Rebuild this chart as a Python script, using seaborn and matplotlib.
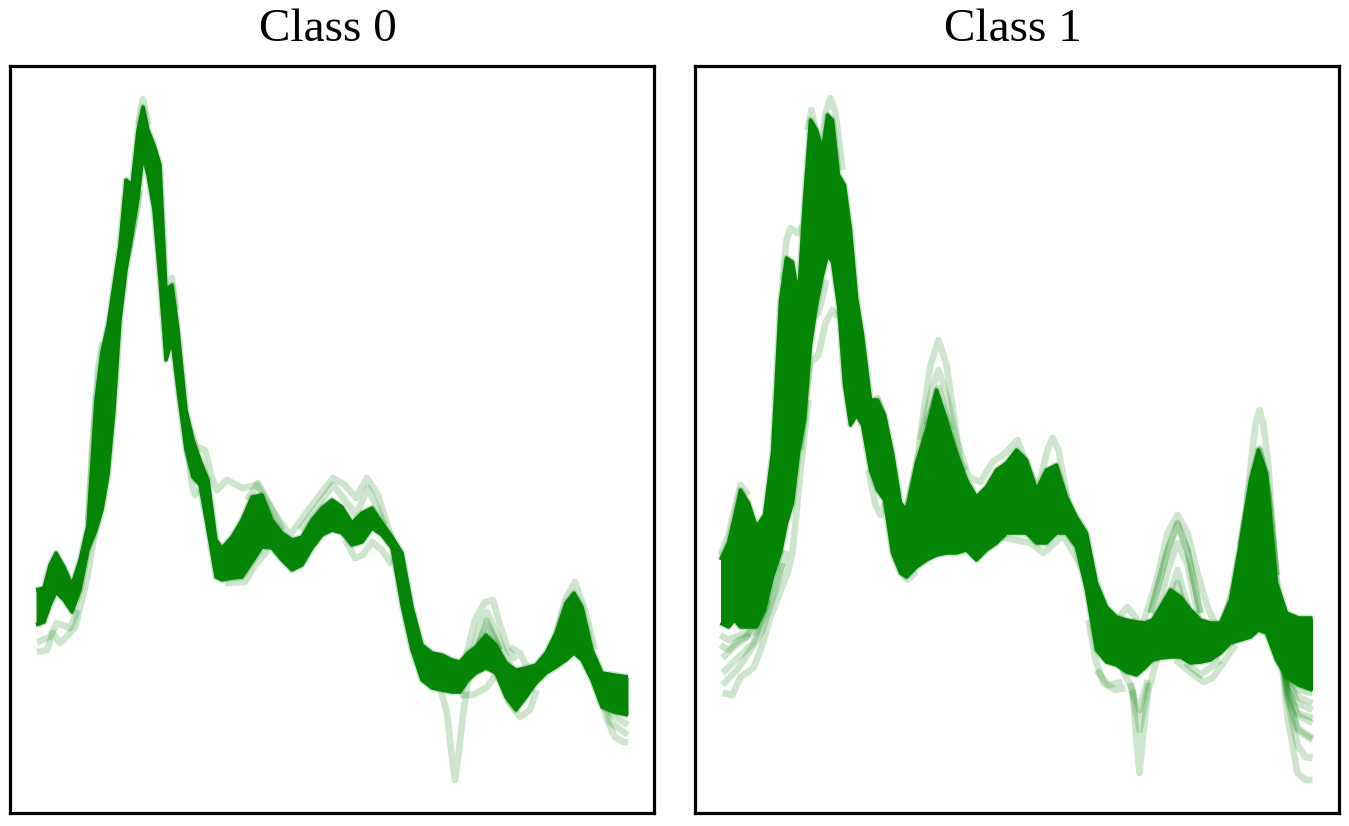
import numpy as np
import pandas as pd
import matplotlib.pyplot as plt
import seaborn as sns

sns.set_theme(style="white")
plt.rcParams['font.family'] = ['Liberation Serif', 'DejaVu Serif']
plt.rcParams['lines.solid_capstyle'] = 'butt'
plt.rcParams['lines.solid_joinstyle'] = 'round'

titles = ['Class 0', 'Class 1']

# shared sampling grid of the dense band
wavelength = [0, 8, 14, 20, 28, 36, 44, 52, 60, 66,
              72, 78, 84, 90, 96, 102, 107, 112, 118, 124,
              130, 136, 142, 150, 157, 164, 172, 180, 186, 196,
              206, 216, 226, 236, 246, 256, 266, 276, 286, 296,
              306, 316, 326, 336, 346, 356, 366, 376, 386, 396,
              406, 416, 424, 432, 440, 450, 460, 470, 480, 490,
              500, 510, 520, 530, 538, 546, 556, 566, 578, 592]

# Class 0, upper and lower edge of the dense band
class0_upper = [223, 225, 248, 260, 246, 228, 253, 288, 413, 461,
                488, 528, 568, 633, 628, 683, 706, 683, 668, 648,
                523, 528, 483, 403, 373, 353, 333, 273, 265, 276,
                293, 316, 318, 293, 280, 273, 276, 293, 305, 313,
                306, 290, 300, 305, 290, 276, 260, 206, 168, 160,
                158, 153, 151, 160, 166, 178, 168, 150, 143, 145,
                148, 160, 180, 210, 220, 206, 163, 140, 138, 136]
class0_lower = [188, 191, 208, 221, 213, 201, 223, 263, 283, 303,
                338, 403, 493, 543, 578, 615, 658, 638, 603, 533,
                453, 473, 423, 363, 336, 328, 283, 236, 233, 235,
                236, 251, 266, 265, 253, 243, 248, 265, 278, 283,
                280, 268, 271, 285, 278, 265, 208, 163, 133, 125,
                123, 121, 121, 133, 140, 145, 140, 116, 103, 116,
                130, 140, 146, 153, 160, 153, 133, 106, 101, 98]

# Class 1, upper and lower edge of the dense band
class1_upper = [253, 270, 296, 323, 310, 286, 298, 360, 513, 555,
                551, 516, 613, 693, 683, 663, 698, 693, 638, 628,
                583, 516, 478, 413, 413, 398, 360, 310, 303, 350,
                383, 423, 393, 360, 333, 316, 326, 343, 350, 363,
                353, 323, 343, 348, 316, 296, 280, 230, 206, 196,
                193, 191, 190, 193, 206, 223, 216, 203, 193, 190,
                190, 213, 270, 333, 363, 340, 230, 200, 195, 195]
class1_lower = [190, 186, 193, 186, 186, 186, 203, 236, 260, 290,
                310, 360, 393, 468, 508, 538, 558, 551, 508, 428,
                388, 398, 388, 343, 323, 313, 260, 240, 236, 246,
                253, 258, 260, 260, 263, 253, 263, 270, 280, 280,
                280, 270, 270, 280, 280, 266, 223, 163, 151, 148,
                141, 138, 145, 153, 155, 156, 156, 150, 151, 153,
                160, 170, 173, 176, 183, 180, 153, 136, 128, 123]

# single spectra that stick out of the band in Class 0 (x list, y list)
class0_curves = [
    ([150, 160, 169, 176, 181, 191, 206, 221, 236, 254, 276, 297, 309, 320, 331, 342, 356],
     [393, 366, 363, 335, 323, 333, 325, 328, 303, 278, 308, 335, 328, 315, 335, 318, 273]),
    ([264, 297, 309, 320, 332, 349], [283, 328, 313, 298, 325, 288]),
    ([402, 411, 415, 419, 423, 427, 431, 437], [133, 100, 63, 33, 63, 98, 126, 158]),
    ([429, 439, 449, 457, 464, 472, 480], [153, 193, 211, 213, 188, 163, 153]),
    ([434, 444, 451, 461, 474], [150, 188, 201, 178, 148]),
    ([436, 451, 464], [150, 188, 163]),
    ([436, 451, 464], [150, 192, 163]),
    ([424, 437, 451, 461, 470], [118, 118, 126, 140, 150]),
    ([556, 564, 571, 579, 587, 592], [153, 123, 93, 76, 71, 71]),
    ([556, 564, 574, 592], [153, 130, 91, 78]),
    ([556, 564, 576, 592], [153, 133, 98, 88]),
    ([309, 319, 327, 336, 346, 356], [273, 255, 258, 271, 263, 248]),
    ([1, 11, 17, 24, 32, 39, 46, 52, 61], [161, 163, 180, 170, 178, 186, 213, 240, 293]),
    ([1, 14, 21, 34, 42], [171, 176, 190, 185, 203]),
    ([471, 484, 494, 501], [113, 96, 103, 123]),
    ([474, 484, 494], [166, 160, 140]),
    ([102, 107, 112], [688, 714, 688]),
    ([132, 136, 140], [503, 535, 503]),
    ([88, 95, 100, 104], [543, 573, 598, 623]),
    ([52, 56, 62, 66, 71, 76], [288, 363, 443, 468, 468, 493]),
    ([519, 529, 539, 549, 559], [173, 213, 231, 203, 163]),
    ([211, 222, 234, 246], [313, 330, 308, 283]),
    ([151, 156, 159, 163], [373, 328, 318, 323]),
    ([189, 209, 219, 232], [230, 231, 248, 263]),
]

# single spectra that stick out of the band in Class 1 (x list, y list)
class1_curves = [
    ([2, 12, 20, 33, 40, 50, 67, 72, 80, 88], [120, 118, 136, 145, 163, 196, 240, 260, 343, 413]),
    ([2, 18, 30, 42, 55, 66], [128, 145, 163, 183, 223, 262]),
    ([2, 13, 33, 50, 62], [140, 151, 170, 213, 250]),
    ([2, 13, 25, 42], [155, 166, 175, 203]),
    ([0, 8, 20, 36, 48], [178, 173, 178, 181, 213]),
    ([0, 8, 18, 30], [168, 163, 173, 178]),
    ([0, 8, 20, 28], [258, 278, 328, 318]),
    ([62, 66, 70, 77, 83], [533, 573, 585, 580, 588]),
    ([80, 85, 90, 98, 105, 112, 117], [363, 413, 450, 458, 490, 503, 496]),
    ([88, 92, 98, 106], [483, 496, 500, 533]),
    ([100, 105, 110, 115, 122], [663, 700, 715, 700, 643]),
    ([87, 91, 95, 100], [683, 703, 683, 643]),
    ([186, 196, 203, 210, 218, 226, 233, 240, 250, 260, 272, 285, 297, 307, 317, 327, 332, 338, 347, 356],
     [303, 348, 400, 448, 473, 448, 400, 350, 335, 331, 351, 360, 373, 346, 323, 363, 375, 363, 313, 288]),
    ([200, 210, 218, 226, 236, 246], [373, 418, 443, 418, 373, 343]),
    ([206, 218, 230], [388, 425, 383]),
    ([280, 310, 323, 343, 353, 365], [276, 270, 260, 278, 260, 238]),
    ([180, 187, 196], [243, 233, 241]),
    ([402, 412, 416, 419, 422, 428, 437], [143, 123, 73, 40, 73, 123, 156]),
    ([410, 419, 428], [130, 83, 130]),
    ([411, 419, 427], [123, 103, 133]),
    ([368, 375, 383, 395, 405], [193, 153, 130, 123, 125]),
    ([376, 388, 402], [143, 128, 131]),
    ([420, 428, 437, 447, 457, 467, 477, 487, 495], [183, 206, 236, 280, 298, 280, 240, 206, 188]),
    ([430, 447, 457, 467, 480], [200, 262, 288, 262, 200]),
    ([430, 447, 457, 467, 480], [200, 262, 290, 262, 200]),
    ([435, 448, 457, 467, 478], [190, 245, 270, 248, 195]),
    ([440, 457, 472], [190, 243, 190]),
    ([445, 457, 468], [190, 230, 190]),
    ([455, 467, 483, 492, 500, 515], [153, 143, 131, 135, 146, 168]),
    ([465, 480, 500], [150, 138, 153]),
    ([505, 513, 523, 530, 535, 539, 543, 548, 555, 560, 565],
     [198, 226, 280, 346, 388, 403, 388, 346, 246, 200, 178]),
    ([520, 530, 539, 548, 556], [268, 323, 365, 318, 238]),
    ([520, 530, 539, 548, 556], [268, 323, 363, 318, 238]),
    ([550, 560, 567, 577, 585, 592], [213, 163, 96, 40, 33, 33]),
    ([555, 567, 577, 585, 592], [205, 113, 68, 56, 55]),
    ([555, 567, 577, 592], [205, 118, 83, 73]),
    ([555, 567, 577, 592], [205, 118, 85, 75]),
    ([555, 567, 577, 592], [205, 123, 98, 90]),
    ([555, 567, 577, 592], [205, 125, 100, 95]),
    ([555, 567, 577, 592], [205, 133, 110, 103]),
    ([555, 566, 577, 592], [205, 135, 116, 110]),
    ([555, 566, 577, 592], [205, 140, 123, 120]),
    ([385, 396, 407, 417], [201, 193, 206, 193]),
    ([150, 157, 164, 169], [393, 415, 393, 363]),
    ([148, 155, 160, 166], [343, 308, 298, 313]),
]


def long_table(curves):
    rows = []
    for i, (x, y) in enumerate(curves):
        rows.append(pd.DataFrame({'curve': i, 'x': x, 'y': y}))
    return pd.concat(rows, ignore_index=True)


fig = plt.figure(figsize=(13.49, 8.26), dpi=100, facecolor='white')
ax0 = fig.add_axes([10 / 1349, 13 / 826, 644 / 1349, 747 / 826])
ax1 = fig.add_axes([694.5 / 1349, 13 / 826, 644 / 1349, 747 / 826])

panels = [(ax0, class0_upper, class0_lower, class0_curves),
          (ax1, class1_upper, class1_lower, class1_curves)]

for n, (ax, upper, lower, curves) in enumerate(panels):
    ax.fill_between(wavelength, lower, upper, color='#058505', lw=0, zorder=3)
    edges = [(wavelength, upper), (wavelength, lower)]
    table = long_table(edges + curves)
    # loose spectra, very transparent
    sns.lineplot(data=table, x='x', y='y', units='curve', estimator=None, sort=False,
                 color='green', alpha=0.2, linewidth=4.8, legend=False, ax=ax, zorder=2)
    # solid stroke on the band edges so thin parts keep the width of the line
    sns.lineplot(data=long_table(edges), x='x', y='y', units='curve', estimator=None, sort=False,
                 color='#058505', linewidth=2.6, legend=False, ax=ax, zorder=3)
    ax.set_xlim(-26, 618)
    ax.set_ylim(0, 747)
    ax.set_xticks([])
    ax.set_yticks([])
    ax.set_xlabel('')
    ax.set_ylabel('')
    for side in ax.spines.values():
        side.set_color('black')
        side.set_linewidth(2.3)
    ax.set_title(titles[n], fontsize=34, color='black', pad=18, x=0.494)

fig.savefig('out.png', dpi=100, facecolor='white')
